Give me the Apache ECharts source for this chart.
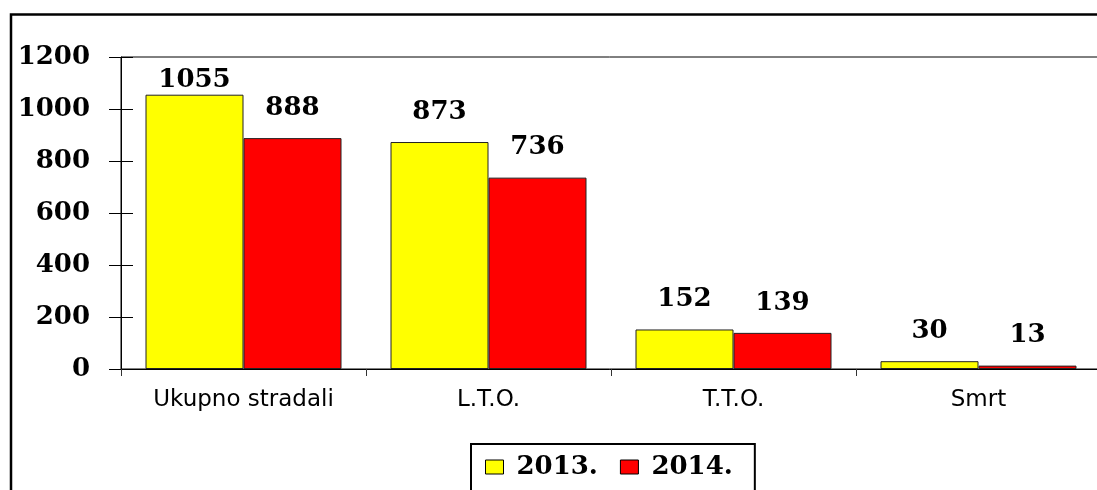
<!DOCTYPE html>
<html>
<head>
<meta charset="utf-8">
<script src="https://cdn.jsdelivr.net/npm/echarts@6/dist/echarts.min.js"></script>
<style>
html,body{margin:0;padding:0;background:#fff;}
#chart{width:1097px;height:490px;}
</style>
</head>
<body>
<div id="chart"></div>
<script>
const categories = ['Ukupno stradali', 'L.T.O.', 'T.T.O.', 'Smrt'];
const values2013 = [1055, 873, 152, 30];
const values2014 = [888, 736, 139, 13];
const seriesNames = ['2013.', '2014.'];
const yTicks = [0, 200, 400, 600, 800, 1000, 1200];

const serif = 'DejaVu Serif';
const labelStyle = {fontFamily: serif, fontWeight: 'bold', fontSize: 26, color: '#000'};

function buildData(vals, first) {
  return vals.map(function (v, i) {
    if (first && i === 0) {
      return {value: v, label: {distance: 1}};
    }
    return v;
  });
}

const chart = echarts.init(document.getElementById('chart'), null, {renderer: 'canvas'});
chart.setOption({
  animation: false,
  backgroundColor: '#fff',
  graphic: [{
    type: 'polyline',
    x: 0, y: 0,
    shape: {points: [[11, 600], [11, 14.5], [1200, 14.5]]},
    style: {fill: 'none', stroke: '#000', lineWidth: 2.5},
    silent: true, z: 100
  }],
  grid: {
    left: 121, top: 57, right: -4, height: 312,
    outerBoundsMode: 'none',
    containLabel: false,
    show: true, borderColor: '#000', borderWidth: 1, backgroundColor: 'transparent'
  },
  legend: {
    data: seriesNames,
    left: 471, top: 444,
    padding: [10, 22, 40, 14],
    itemWidth: 18, itemHeight: 14, itemGap: 22,
    borderColor: '#000', borderWidth: 2,
    icon: 'rect',
    itemStyle: {borderColor: '#000', borderWidth: 1},
    textStyle: {fontFamily: serif, fontWeight: 'bold', fontSize: 26, color: '#000', padding: [0, 0, 0, 8]}
  },
  xAxis: {
    type: 'category',
    data: categories,
    axisLine: {lineStyle: {color: '#000', width: 1}},
    axisTick: {show: true, length: 7, alignWithLabel: false, lineStyle: {color: '#333'}},
    axisLabel: {fontFamily: 'DejaVu Sans', fontSize: 23, color: '#000', margin: 20},
    splitLine: {show: false}
  },
  yAxis: [{
    type: 'value',
    min: 0, max: 1200, interval: 200,
    axisLine: {show: true, lineStyle: {color: '#000', width: 1}},
    axisTick: {show: true, length: 12, inside: false, lineStyle: {color: '#000'}},
    axisLabel: Object.assign({margin: 31, formatter: function (v) { return yTicks.indexOf(v) >= 0 ? String(v) : ''; }}, labelStyle),
    splitLine: {show: false}
  }, {
    type: 'value',
    position: 'left',
    min: 0, max: 1200, interval: 200,
    axisLine: {show: false},
    axisTick: {show: true, length: 12, inside: true, lineStyle: {color: '#000'}},
    axisLabel: {show: false},
    splitLine: {show: false}
  }],
  series: [{
    name: seriesNames[0],
    type: 'bar',
    data: buildData(values2013, true),
    barGap: '0%',
    barCategoryGap: '20%',
    itemStyle: {color: '#FFFF00', borderColor: '#222', borderWidth: 1},
    label: Object.assign({show: true, position: 'top', distance: 17}, labelStyle)
  }, {
    name: seriesNames[1],
    type: 'bar',
    data: buildData(values2014, false),
    barGap: '0%',
    barCategoryGap: '20%',
    itemStyle: {color: '#FF0000', borderColor: '#222', borderWidth: 1},
    label: Object.assign({show: true, position: 'top', distance: 17}, labelStyle)
  }]
});
</script>
</body>
</html>
